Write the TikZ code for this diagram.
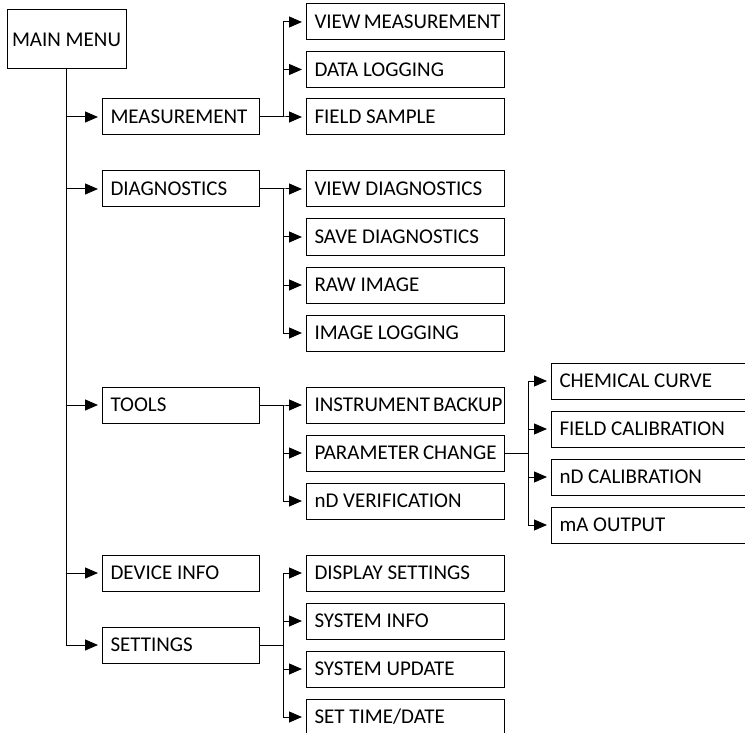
\documentclass[tikz,border=0pt]{standalone}
\usepackage{fontspec}
\setmainfont{Carlito}
\usetikzlibrary{arrows.meta}

\tikzset{
  menubox/.style={draw, line width=1pt, anchor=west, minimum height=36pt,
    inner xsep=8pt, text height=13.3pt, text depth=0pt,
    font=\fontsize{21}{25}\selectfont,
    execute at begin node={\hbox to #1\bgroup}, execute at end node={\hfil\egroup}},
  lvlone/.style={menubox=141pt},
  lvltwo/.style={menubox=182pt},
  arr/.style={line width=1pt, -{Triangle[length=13pt,width=11pt]}, shorten >=4pt}
}

\begin{document}
\begin{tikzpicture}[x=1pt,y=-1pt]
\clip (0,0) rectangle (745,733) ;
\fill[white] (0,0) rectangle (745,733) ;
% top
\node[draw, line width=1pt, minimum width=119pt, minimum height=59pt,
  font=\fontsize{21}{25}\selectfont] (main) at (66.5,39.5) {MAIN MENU} ;
% first level
\node[lvlone] (meas) at (102,117) {MEASUREMENT} ;
\node[lvlone] (diag) at (102,189) {DIAGNOSTICS} ;
\node[lvlone] (tools) at (102,405) {TOOLS} ;
\node[lvlone] (devinfo) at (102,573) {DEVICE INFO} ;
\node[lvlone] (settings) at (102,645) {SETTINGS} ;
% second level
\node[lvltwo] (vmeas) at (306,22) {VIEW MEASUREMENT} ;
\node[lvltwo] (dlog) at (306,69.5) {DATA LOGGING} ;
\node[lvltwo] (fsample) at (306,117) {FIELD SAMPLE} ;
\node[lvltwo] (vdiag) at (306,189) {VIEW DIAGNOSTICS} ;
\node[lvltwo] (sdiag) at (306,237) {SAVE DIAGNOSTICS} ;
\node[lvltwo] (rawimg) at (306,285) {RAW IMAGE} ;
\node[lvltwo] (imglog) at (306,333) {IMAGE LOGGING} ;
\node[lvltwo] (ibackup) at (306,405) {INSTRUMENT BACKUP} ;
\node[lvltwo] (pchange) at (306,453) {PARAMETER CHANGE} ;
\node[lvltwo] (ndverif) at (306,501) {nD VERIFICATION} ;
\node[lvltwo] (dispset) at (306,573) {DISPLAY SETTINGS} ;
\node[lvltwo] (sysinfo) at (306,621) {SYSTEM INFO} ;
\node[lvltwo] (sysupd) at (306,669) {SYSTEM UPDATE} ;
\node[lvltwo] (settime) at (306,717) {SET TIME/DATE} ;
% third level
\node[lvltwo] (chemcurve) at (551,381) {CHEMICAL CURVE} ;
\node[lvltwo] (fcal) at (551,429) {FIELD CALIBRATION} ;
\node[lvltwo] (ndcal) at (551,477) {nD CALIBRATION} ;
\node[lvltwo] (maout) at (551,525) {mA OUTPUT} ;
% connectors
\foreach \c in {meas,diag,tools,devinfo,settings} {\draw[arr] (main.south) |- (\c.west) ; }
\foreach \c in {vmeas,dlog,fsample} {\draw[arr] (meas.east) -- ++(23,0) |- (\c.west) ; }
\foreach \c in {vdiag,sdiag,rawimg,imglog} {\draw[arr] (diag.east) -- ++(23,0) |- (\c.west) ; }
\foreach \c in {ibackup,pchange,ndverif} {\draw[arr] (tools.east) -- ++(23,0) |- (\c.west) ; }
\foreach \c in {dispset,sysinfo,sysupd,settime} {\draw[arr] (settings.east) -- ++(23,0) |- (\c.west) ; }
\foreach \c in {chemcurve,fcal,ndcal,maout} {\draw[arr] (pchange.east) -- ++(23,0) |- (\c.west) ; }
\end{tikzpicture}
\end{document}
